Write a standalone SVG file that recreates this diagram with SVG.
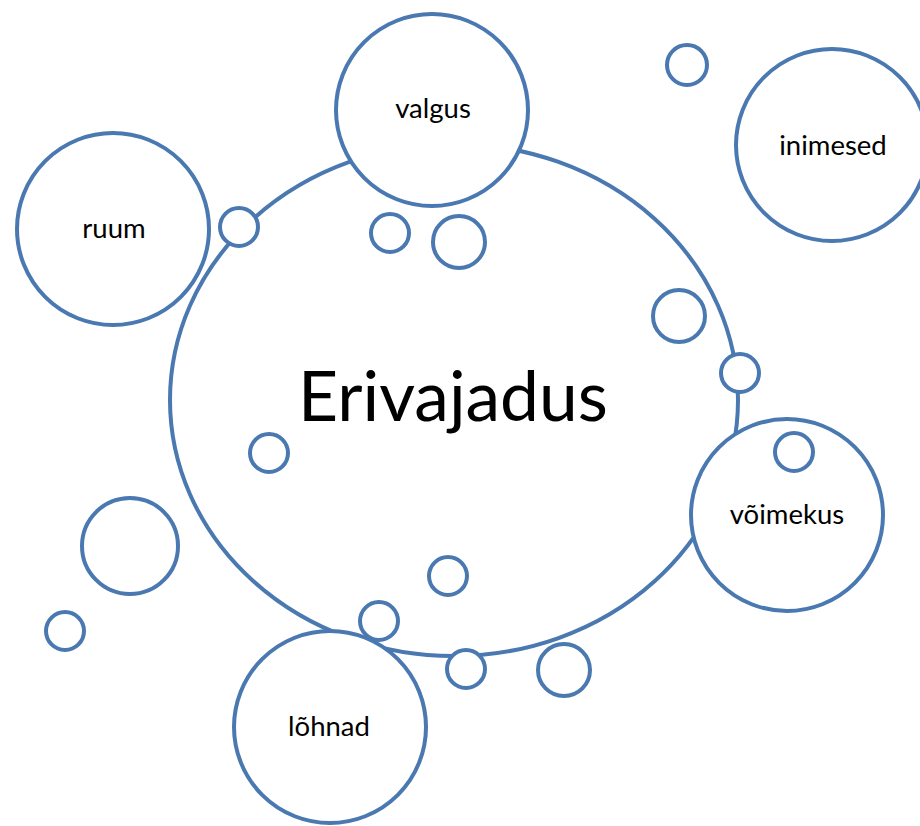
<svg xmlns="http://www.w3.org/2000/svg" width="920" height="826" viewBox="0 0 920 826">
<style>
  .c { fill: #ffffff; stroke: #4a78b0; stroke-width: 4; }
  .lbl { font-family: Lato, "Open Sans", "Liberation Sans", sans-serif; font-size: 27.5px; fill: #000000; text-anchor: middle; }
  .main { font-family: Lato, "Open Sans", "Liberation Sans", sans-serif; font-size: 69.5px; fill: #000000; text-anchor: middle; }
</style>
<rect width="920" height="826" fill="#ffffff"/>
<g id="erivajadus">
  <ellipse class="c" cx="454" cy="400" rx="284" ry="256"/>
  <text class="main" x="453" y="421">Erivajadus</text>
</g>
<g id="bubbles">
  <circle class="c" cx="687" cy="65" r="20"/>
  <circle class="c" cx="239" cy="227" r="19"/>
  <circle class="c" cx="390" cy="233" r="19"/>
  <circle class="c" cx="459" cy="242" r="26"/>
  <circle class="c" cx="679" cy="316" r="26"/>
  <circle class="c" cx="740" cy="373" r="19"/>
  <circle class="c" cx="269" cy="453" r="19"/>
  <circle class="c" cx="130" cy="546" r="48"/>
  <circle class="c" cx="65" cy="631" r="19"/>
  <circle class="c" cx="448" cy="576" r="19"/>
  <circle class="c" cx="379" cy="621" r="19"/>
  <circle class="c" cx="466" cy="669" r="19"/>
  <circle class="c" cx="564" cy="670" r="26"/>
</g>
<g id="ruum">
  <circle class="c" cx="113" cy="229" r="96"/>
  <text class="lbl" x="114" y="238">ruum</text>
</g>
<g id="valgus">
  <circle class="c" cx="432" cy="110" r="96"/>
  <text class="lbl" x="433" y="118">valgus</text>
</g>
<g id="inimesed">
  <circle class="c" cx="832" cy="145" r="96"/>
  <text class="lbl" x="833" y="155">inimesed</text>
</g>
<g id="voimekus">
  <circle class="c" cx="787" cy="515" r="96"/>
  <circle class="c" cx="794" cy="452" r="19"/>
  <text class="lbl" x="787" y="524">võimekus</text>
</g>
<g id="lohnad">
  <circle class="c" cx="330" cy="727" r="96"/>
  <text class="lbl" x="329" y="736">lõhnad</text>
</g>
</svg>
